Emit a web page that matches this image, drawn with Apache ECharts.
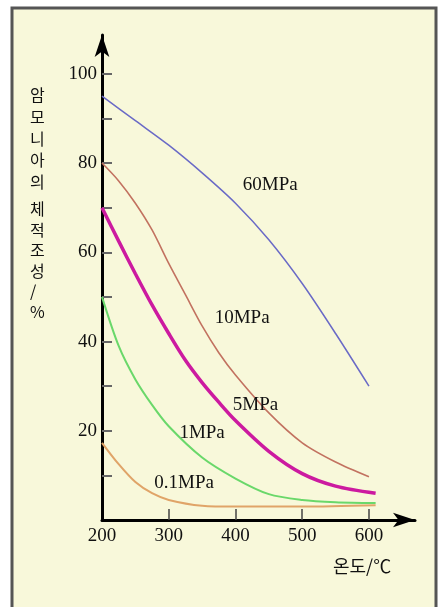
<!DOCTYPE html>
<html>
<head>
<meta charset="utf-8">
<script src="https://cdn.jsdelivr.net/npm/echarts@6/dist/echarts.min.js"></script>
<style>
    html, body { margin: 0; padding: 0; background: #fff; }
    #chart { width: 440px; height: 607px; }
</style>
</head>
<body>
<div id="chart"></div>
<script>
// 온도 (°C) / 암모니아 체적조성 (%) 읽은 값
const t60 = [200, 250, 300, 350, 400, 450, 500, 550, 600];
const p60 = [95, 89.5, 84, 77.8, 71, 62.8, 53, 41.8, 30];

const t10 = [200, 225, 250, 275, 300, 325, 350, 375, 400, 450, 500, 550, 600];
const p10 = [80, 76, 71, 65, 57.5, 50.5, 43.5, 37.5, 32.5, 24, 17.3, 13, 9.7];

const t5 = [200, 225, 250, 275, 300, 325, 350, 375, 400, 450, 500, 550, 610];
const p5 = [70, 62.5, 55.2, 48.2, 41.8, 35.8, 30.8, 26.4, 22.3, 15.4, 10.4, 7.6, 6];

const t1 = [200, 225, 250, 275, 300, 350, 400, 450, 500, 550, 610];
const p1 = [50, 39, 31.5, 25.8, 21, 14, 9.3, 5.8, 4.5, 4, 3.8];

const t01 = [200, 225, 250, 275, 300, 350, 400, 500, 610];
const p01 = [17.3, 12.5, 8.5, 6, 4.5, 3.2, 3, 3, 3.3];

const xTicks = [300, 400, 500, 600];
const xLabels = [200, 300, 400, 500, 600];
const yTicks = [10, 20, 30, 40, 50, 60, 70, 80, 90, 100];
const yLabels = [20, 40, 60, 80, 100];

// 곡선 이름 표시 위치 (데이터 좌표)
const curveNames = ['60MPa', '10MPa', '5MPa', '1MPa', '0.1MPa'];
const nameAt = [[452, 75], [410, 45.3], [430, 25.8], [350, 19.5], [323, 8.3]];

const serif = '"Liberation Serif", "DejaVu Serif", serif';
const kr = '"Noto Sans CJK KR", sans-serif';

function zip(xs, ys) {
    return xs.map(function (x, i) { return [x, ys[i]]; });
}

function makeSeries(idx, xs, ys, color, width) {
    return {
        name: curveNames[idx],
        type: 'line',
        smooth: 0.3,
        symbol: 'none',
        data: zip(xs, ys),
        lineStyle: { color: color, width: width },
        markPoint: {
            symbol: 'circle',
            symbolSize: 0,
            data: [{ name: curveNames[idx], coord: nameAt[idx] }],
            label: {
                show: true,
                formatter: '{b}',
                color: '#111',
                fontFamily: serif,
                fontSize: 19
            }
        }
    };
}

const chart = echarts.init(document.getElementById('chart'));
chart.setOption({
    backgroundColor: '#fff',
    animation: false,
    graphic: [
        {
            type: 'rect',
            z: -10,
            shape: { x: 12, y: 8, width: 424, height: 620 },
            style: { fill: '#f8f8da', stroke: '#555', lineWidth: 3 }
        },
        {
            type: 'text',
            left: 30, top: 84,
            style: {
                text: '암\n모\n니\n아\n의',
                font: '16px ' + kr,
                lineHeight: 21.8,
                fill: '#111',
                align: 'center'
            }
        },
        {
            type: 'text',
            left: 30, top: 199,
            style: {
                text: '체\n적\n조\n성\n/\n%',
                font: '16px ' + kr,
                lineHeight: 20.5,
                fill: '#111',
                align: 'center'
            }
        },
        {
            type: 'text',
            left: 333, top: 557,
            style: {
                text: '온도/℃',
                font: '18px ' + kr,
                fill: '#111'
            }
        }
    ],
    grid: { left: 102, right: 25, top: 35, bottom: 87 },
    xAxis: {
        type: 'value',
        min: 200,
        max: 669,
        axisLine: {
            lineStyle: { color: '#000', width: 3 },
            symbol: ['none', 'arrow'],
            symbolSize: [11, 22]
        },
        axisTick: {
            inside: true,
            length: 11,
            customValues: xTicks,
            lineStyle: { color: '#444', width: 1.5 }
        },
        axisLabel: {
            customValues: xLabels,
            margin: 7,
            color: '#111',
            fontFamily: serif,
            fontSize: 19
        },
        splitLine: { show: false }
    },
    yAxis: {
        type: 'value',
        min: 0,
        max: 108.7,
        axisLine: {
            show: true,
            lineStyle: { color: '#000', width: 3 },
            symbol: ['none', 'arrow'],
            symbolSize: [11, 22]
        },
        axisTick: {
            show: true,
            inside: true,
            length: 10,
            customValues: yTicks,
            lineStyle: { color: '#666', width: 2 }
        },
        axisLabel: {
            customValues: yLabels,
            margin: 5,
            color: '#111',
            fontFamily: serif,
            fontSize: 19
        },
        splitLine: { show: false }
    },
    series: [
        makeSeries(0, t60, p60, '#6a6ac6', 1.5),
        makeSeries(1, t10, p10, '#c27260', 1.6),
        makeSeries(2, t5, p5, '#cc1aa0', 3.5),
        makeSeries(3, t1, p1, '#6ad86a', 2),
        makeSeries(4, t01, p01, '#e0a468', 2)
    ]
});
window.addEventListener('resize', function () {
    chart.resize();
});
</script>
</body>
</html>
